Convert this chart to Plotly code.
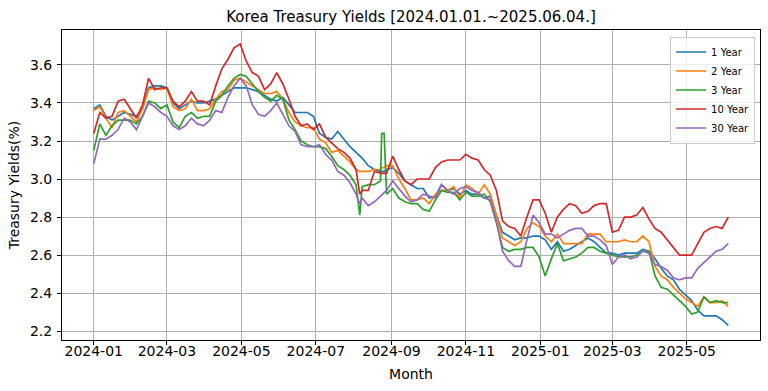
import plotly.graph_objects as go

dates = [
    "2024-01-01", "2024-01-06", "2024-01-11", "2024-01-16", "2024-01-21", "2024-01-26", "2024-01-31",
    "2024-02-05", "2024-02-10", "2024-02-15", "2024-02-20", "2024-02-25", "2024-03-01", "2024-03-06",
    "2024-03-11", "2024-03-16", "2024-03-21", "2024-03-26", "2024-03-31", "2024-04-05", "2024-04-10",
    "2024-04-15", "2024-04-20", "2024-04-25", "2024-04-30", "2024-05-05", "2024-05-10", "2024-05-15",
    "2024-05-20", "2024-05-25", "2024-05-30", "2024-06-04", "2024-06-09", "2024-06-14", "2024-06-19",
    "2024-06-24", "2024-06-29", "2024-07-04", "2024-07-09", "2024-07-14", "2024-07-19", "2024-07-24",
    "2024-07-29", "2024-08-03", "2024-08-06", "2024-08-08", "2024-08-13", "2024-08-18", "2024-08-23",
    "2024-08-24", "2024-08-26", "2024-08-28", "2024-09-02", "2024-09-07", "2024-09-12", "2024-09-17",
    "2024-09-22", "2024-09-27", "2024-10-02", "2024-10-07", "2024-10-12", "2024-10-17", "2024-10-22",
    "2024-10-27", "2024-11-01", "2024-11-06", "2024-11-11", "2024-11-16", "2024-11-21", "2024-11-26",
    "2024-12-01", "2024-12-06", "2024-12-11", "2024-12-16", "2024-12-21", "2024-12-26", "2024-12-31",
    "2025-01-05", "2025-01-10", "2025-01-15", "2025-01-20", "2025-01-25", "2025-01-30", "2025-02-04",
    "2025-02-09", "2025-02-14", "2025-02-19", "2025-02-24", "2025-03-01", "2025-03-06", "2025-03-11",
    "2025-03-16", "2025-03-21", "2025-03-26", "2025-03-31", "2025-04-05", "2025-04-10", "2025-04-15",
    "2025-04-20", "2025-04-25", "2025-04-30", "2025-05-05", "2025-05-10", "2025-05-15", "2025-05-20",
    "2025-05-25", "2025-05-30", "2025-06-04",
]

y1 = [
    3.37, 3.39, 3.33, 3.31, 3.33, 3.35, 3.34, 3.33, 3.37, 3.48, 3.49, 3.49, 3.48, 3.40, 3.37, 3.39, 3.41, 3.40, 3.40,
    3.41, 3.42, 3.44, 3.46, 3.48, 3.48, 3.48, 3.47, 3.46, 3.44, 3.42, 3.41, 3.43, 3.39, 3.35, 3.35, 3.35, 3.33,
    3.24, 3.22, 3.21, 3.25, 3.21, 3.17, 3.14, 3.12, 3.11, 3.07, 3.05, 3.04, 3.04, 3.04, 3.05, 3.06, 3.03, 2.99, 2.97, 2.95, 2.95, 2.90,
    2.91, 2.97, 2.94, 2.95, 2.92, 2.94, 2.92, 2.92, 2.90, 2.91, 2.81, 2.72, 2.70, 2.68, 2.69, 2.69, 2.70, 2.70, 2.68,
    2.63, 2.67, 2.62, 2.63, 2.65, 2.67, 2.69, 2.67, 2.64, 2.61, 2.61, 2.60, 2.61, 2.61, 2.61, 2.63, 2.62, 2.58, 2.53,
    2.49, 2.47, 2.42, 2.39, 2.36, 2.31, 2.28, 2.28, 2.28, 2.26, 2.23,
]
y2 = [
    3.36, 3.38, 3.32, 3.27, 3.35, 3.36, 3.33, 3.30, 3.37, 3.47, 3.48, 3.47, 3.48, 3.38, 3.36, 3.37, 3.42, 3.36, 3.36,
    3.37, 3.42, 3.46, 3.47, 3.52, 3.53, 3.51, 3.49, 3.47, 3.45, 3.45, 3.46, 3.42, 3.35, 3.30, 3.28, 3.27, 3.27,
    3.21, 3.19, 3.14, 3.15, 3.12, 3.09, 3.05, 3.04, 3.04, 3.04, 3.05, 3.05, 3.06, 3.06, 3.07, 3.07, 3.00, 2.95, 2.89, 2.89, 2.90, 2.87,
    2.92, 2.94, 2.94, 2.96, 2.90, 2.97, 2.95, 2.92, 2.97, 2.92, 2.81, 2.69, 2.67, 2.65, 2.67, 2.74, 2.77, 2.75, 2.70,
    2.67, 2.71, 2.66, 2.66, 2.66, 2.66, 2.71, 2.71, 2.71, 2.67, 2.67, 2.67, 2.68, 2.67, 2.67, 2.70, 2.67, 2.54, 2.49,
    2.47, 2.43, 2.40, 2.37, 2.35, 2.33, 2.38, 2.35, 2.35, 2.36, 2.33,
]
y3 = [
    3.15, 3.29, 3.23, 3.28, 3.31, 3.31, 3.31, 3.29, 3.33, 3.41, 3.40, 3.37, 3.39, 3.30, 3.27, 3.33, 3.35, 3.32, 3.33,
    3.33, 3.41, 3.44, 3.49, 3.53, 3.55, 3.54, 3.50, 3.46, 3.43, 3.41, 3.44, 3.42, 3.31, 3.26, 3.20, 3.18, 3.17,
    3.17, 3.16, 3.12, 3.07, 3.05, 3.02, 2.97, 2.81, 2.96, 2.97, 2.97, 2.99, 3.24, 3.24, 2.92, 2.95, 2.90, 2.88, 2.87, 2.87, 2.84, 2.83,
    2.89, 2.94, 2.93, 2.93, 2.89, 2.93, 2.91, 2.91, 2.92, 2.88, 2.77, 2.64, 2.62, 2.63, 2.63, 2.64, 2.64, 2.59, 2.49,
    2.58, 2.66, 2.57, 2.58, 2.59, 2.61, 2.64, 2.64, 2.62, 2.61, 2.60, 2.59, 2.59, 2.59, 2.60, 2.62, 2.62, 2.49, 2.43,
    2.42, 2.39, 2.36, 2.33, 2.29, 2.30, 2.38, 2.35, 2.36, 2.35, 2.35,
]
y10 = [
    3.24, 3.35, 3.32, 3.33, 3.41, 3.42, 3.37, 3.32, 3.39, 3.53, 3.47, 3.48, 3.48, 3.41, 3.38, 3.41, 3.46, 3.41, 3.41,
    3.39, 3.49, 3.58, 3.63, 3.69, 3.71, 3.62, 3.56, 3.54, 3.47, 3.50, 3.56, 3.50, 3.42, 3.33, 3.28, 3.29, 3.26,
    3.29, 3.22, 3.19, 3.16, 3.14, 3.11, 3.05, 2.92, 2.94, 2.94, 3.04, 3.03, 3.03, 3.03, 3.03, 3.12, 3.05, 2.99, 2.97, 3.00, 3.00, 3.00,
    3.06, 3.09, 3.10, 3.10, 3.10, 3.13, 3.11, 3.10, 3.05, 3.02, 2.94, 2.78, 2.75, 2.74, 2.70, 2.80, 2.89, 2.89, 2.82,
    2.72, 2.80, 2.84, 2.87, 2.86, 2.82, 2.83, 2.86, 2.87, 2.87, 2.72, 2.73, 2.80, 2.80, 2.81, 2.85, 2.79, 2.74, 2.72,
    2.68, 2.64, 2.60, 2.60, 2.60, 2.66, 2.72, 2.74, 2.75, 2.74, 2.80,
]
y30 = [
    3.08, 3.21, 3.21, 3.23, 3.26, 3.32, 3.30, 3.26, 3.33, 3.40, 3.38, 3.35, 3.33, 3.28, 3.26, 3.28, 3.32, 3.29, 3.28,
    3.31, 3.36, 3.35, 3.43, 3.49, 3.53, 3.49, 3.39, 3.34, 3.33, 3.36, 3.40, 3.34, 3.28, 3.25, 3.18, 3.17, 3.17,
    3.18, 3.13, 3.10, 3.04, 3.02, 2.98, 2.92, 2.87, 2.90, 2.86, 2.88, 2.91, 2.92, 2.93, 2.94, 2.99, 2.95, 2.91, 2.88, 2.89, 2.92, 2.91,
    2.90, 2.97, 2.94, 2.92, 2.95, 2.96, 2.94, 2.93, 2.90, 2.89, 2.78, 2.62, 2.57, 2.54, 2.54, 2.68, 2.81, 2.77, 2.71,
    2.71, 2.69, 2.71, 2.73, 2.74, 2.74, 2.70, 2.70, 2.68, 2.65, 2.55, 2.59, 2.60, 2.58, 2.59, 2.62, 2.61, 2.55, 2.54,
    2.52, 2.48, 2.47, 2.48, 2.48, 2.53, 2.56, 2.59, 2.62, 2.63, 2.66,
]

series_names = ["1 Year", "2 Year", "3 Year", "10 Year", "30 Year"]
series_values = [y1, y2, y3, y10, y30]
colors = ["#1f77b4", "#ff7f0e", "#2ca02c", "#d62728", "#9467bd"]

FONT = "DejaVu Sans"

fig = go.Figure()
for name, vals, col in zip(series_names, series_values, colors):
    fig.add_trace(go.Scatter(x=dates, y=vals, mode="lines", name=name,
                             line=dict(color=col, width=1.7)))

fig.update_layout(
    width=768, height=391,
    margin=dict(l=62, r=8, t=30, b=51),
    paper_bgcolor="white", plot_bgcolor="white",
    font=dict(family=FONT, size=14, color="black"),
    title=dict(text="Korea Treasury Yields [2024.01.01.~2025.06.04.]",
               x=411 / 768, xref="container", xanchor="center",
               y=1 - 17 / 391, yref="container", yanchor="middle",
               font=dict(family=FONT, size=15, color="black")),
    showlegend=True,
    legend=dict(x=0.993, y=0.979, xanchor="right", yanchor="top",
                bgcolor="rgba(255,255,255,0.8)", bordercolor="#cccccc", borderwidth=1,
                font=dict(family=FONT, size=10, color="black"),
                itemwidth=30, tracegroupgap=0),
)

fig.update_xaxes(
    type="date", automargin=False,
    range=["2023-12-06", "2025-06-30"],
    tick0="2024-01-01", dtick="M2", tickformat="%Y-%m",
    showgrid=True, gridcolor="#b0b0b0", gridwidth=1,
    showline=True, linecolor="black", linewidth=1, mirror=True,
    ticks="outside", ticklen=4, tickcolor="black", ticklabelstandoff=-6,
    tickfont=dict(family=FONT, size=14, color="black"),
    title=dict(text="Month", font=dict(family=FONT, size=14, color="black"), standoff=11),
    zeroline=False,
)
fig.update_yaxes(
    automargin=False,
    range=[2.153, 3.784],
    tick0=2.2, dtick=0.2, tickformat=".1f",
    showgrid=True, gridcolor="#b0b0b0", gridwidth=1,
    showline=True, linecolor="black", linewidth=1, mirror=True,
    ticks="outside", ticklen=4, tickcolor="black", ticklabelstandoff=2,
    tickfont=dict(family=FONT, size=14, color="black"),
    title=dict(text="Treasury Yields(%)", font=dict(family=FONT, size=14, color="black"), standoff=7),
    zeroline=False,
)

fig.write_html("out.html", config={"displayModeBar": False},
               post_script="document.body.style.margin='0';")
